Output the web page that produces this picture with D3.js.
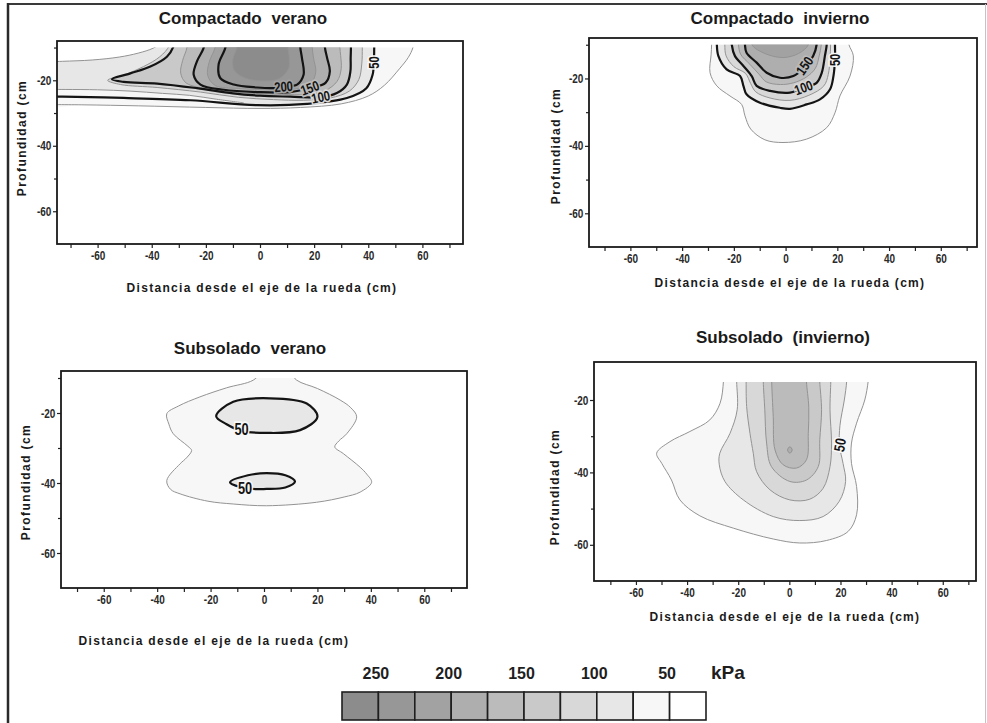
<!DOCTYPE html>
<html>
<head>
<meta charset="utf-8">
<script src="https://cdn.jsdelivr.net/npm/d3@7"></script>
<style>
  body { margin: 0; background: #fff; }
  svg { display: block; font-family: "Liberation Sans", Arial, sans-serif; }
</style>
</head>
<body>
<svg id="fig" width="987" height="723"></svg>
<script>
// contour levels (kPa) and the grey for each 25 kPa band, from 0-25 up to 225-250
var kPaShades = ["#ffffff", "#f7f7f7", "#e7e7e7", "#d8d8d8", "#c9c9c9", "#bbbbbb", "#aeaeae", "#a2a2a2", "#979797", "#8c8c8c"];
var legendLabels = [250, 200, 150, 100, 50];
var distTicks = [-60, -40, -20, 0, 20, 40, 60];
var distMinor = [-70, -50, -30, -10, 10, 30, 50, 70];
var depthTicks = [-20, -40, -60];
var depthMinor = [-10, -30, -50];

// isolines: [distance cm, depth cm]

// Compactado verano
var cvIso25 = [[57,-7],[56.5,-10],[54.8,-13],[51.5,-16.5],[46,-21.5],[40,-24.8],[30,-27.2],[15,-28.3],[0,-28.6],[-20,-28.3],[-45,-27.8],[-65,-27.5],[-80,-27.4]];
var cvIsoA = [[-80,-14.4],[-73,-14.2],[-62,-13.8],[-52,-12.9],[-45,-11.7],[-39.5,-10.2],[-36.5,-8.5],[-35.5,-7]];
var cvIsoBand = [[-80,-22.8],[-72,-22.8],[-60,-22.9],[-48,-23.3],[-36,-24],[-26,-24.6],[-16,-25.8],[-6,-26.9]];
var cvIso50 = [[42.3,-7],[42.2,-10],[42.1,-14],[41.6,-18.3],[39.3,-22.4],[32.1,-25.4],[17.4,-27.2],[-1.1,-27.6],[-25.7,-26.1],[-50.4,-25.4],[-73,-25],[-80,-25]];
var cvIso75 = [[-33.5,-7],[-33.6,-9.5],[-37,-12.8],[-43,-15.8],[-50,-18.3],[-56.3,-20],[-51.5,-21.3],[-38,-22.2],[-22,-23.6],[-8,-25.2],[5,-25.9],[16,-26.1],[26,-25.4],[33,-23.3],[36.5,-19.8],[37.6,-15],[37.8,-10],[37.8,-7]];
var cvIso100 = [[-31.5,-7],[-31.9,-9.5],[-34.4,-12.8],[-40.5,-15.8],[-47.9,-17.9],[-54.7,-19.7],[-50.4,-20.5],[-38,-21],[-23.3,-22.4],[-10,-24],[0,-24.7],[11.2,-25],[22.3,-25.2],[28.4,-23.9],[32.1,-21.3],[33.4,-17.3],[33.5,-13.2],[33.6,-10],[33.6,-7]];
var cvIso125 = [[-27,-7],[-27,-10],[-28.6,-14],[-29.3,-17.8],[-27.3,-20.8],[-18,-22.8],[-5,-23.9],[8,-24.3],[17,-24.3],[24,-23.2],[28.5,-20.3],[30,-16.5],[29.8,-12.5],[29.5,-10],[29.5,-7]];
var cvIso150 = [[-20.8,-7],[-20.8,-10],[-23.3,-14.2],[-24.5,-18.3],[-22,-21.3],[-13.4,-22.9],[-1.1,-23.6],[11.2,-23.6],[18.6,-22.3],[24.2,-20.8],[25.8,-17.3],[24.8,-13.2],[24,-10],[24,-7]];
var cvIso175 = [[-16.5,-7],[-16.6,-10],[-18.8,-14.5],[-19.3,-18.6],[-16.5,-21.6],[-8,-22.5],[4,-22.9],[12.5,-22.7],[18.5,-21.3],[20.6,-17.5],[19.8,-13.3],[19.3,-10],[19.3,-7]];
var cvIso200 = [[-12.8,-7],[-12.8,-10],[-15.3,-15.2],[-14.7,-19.3],[-9.7,-21.3],[-1.1,-22.2],[5,-22.4],[8.7,-22],[13.7,-21.3],[16.1,-18.3],[15.5,-13.2],[14.9,-10],[14.9,-7]];
var cvIso225 = [[-8.5,-7],[-8.5,-10],[-10,-13.5],[-9.5,-17],[-5.5,-19.3],[1,-20.2],[7,-19.5],[10.5,-16.5],[10.8,-13],[10.3,-10],[10.3,-7]];
var cvLabels = [[50, 42.2, -14.6, -90], [200, 8.7, -21.9, -5], [150, 18.4, -22.3, -20], [100, 22.4, -25.1, -12]];

// Compactado invierno
var ciIso25 = [[-28.6,-7],[-28.6,-10],[-28.8,-13],[-29.2,-18.3],[-26.6,-22.2],[-21.5,-25.2],[-17,-27.7],[-15.7,-31.1],[-13.5,-35],[-8,-38.2],[-1,-39],[8.1,-38],[15.9,-34.6],[19.1,-30.2],[21,-25.2],[24.9,-19.3],[26.2,-13.3],[24.5,-10],[24,-7]];
var ciIso50 = [[-26.6,-7],[-26.6,-9.5],[-26,-13.3],[-22.8,-17.3],[-17.6,-19.3],[-16.3,-22.2],[-15.1,-24.7],[-9.9,-27.2],[-2.2,-28.7],[1.7,-29],[8.1,-27.7],[13.3,-26.2],[17.2,-23.2],[18.5,-19.3],[19.1,-14.3],[19.1,-10],[19.1,-7]];
var ciIso75 = [[-23.5,-7],[-23.5,-10],[-23,-13.3],[-20,-16.5],[-15.5,-18.5],[-13.5,-21.5],[-11.5,-24],[-6,-25.8],[1.7,-26.5],[9,-25],[14.8,-22.2],[16.5,-18.8],[17.2,-14],[17.4,-10],[17.4,-7]];
var ciIso100 = [[-20.8,-7],[-20.8,-10],[-19.6,-13.3],[-16.3,-16.3],[-13.1,-19.3],[-11.2,-22.2],[-6,-23.7],[1.7,-24.2],[6.9,-22.8],[12,-21.3],[14,-18.3],[15.2,-13.3],[15.9,-10],[15.9,-7]];
var ciIso125 = [[-18.2,-7],[-18.2,-10],[-17.4,-12.8],[-13.8,-15.8],[-10.2,-18.8],[-7.5,-21],[-2,-21.8],[3,-21.3],[8,-19.6],[11.5,-17],[13,-13.3],[13.8,-10],[13.8,-7]];
var ciIso150 = [[-15.7,-7],[-15.7,-10],[-15.1,-12.4],[-11.2,-15.3],[-7.3,-18.3],[-2.2,-19.8],[3,-19.3],[7.5,-16.5],[10.7,-13.3],[12,-10],[12,-7]];
var ciIso175 = [[-13,-7],[-13,-10],[-8,-12.6],[-1,-13.8],[5,-12.6],[8.8,-10],[8.8,-7]];
var ciLabels = [[150, 7.3, -16.2, -55], [100, 6.9, -22.7, -20], [50, 19.1, -14.5, -90]];

// Subsolado verano
var svIso25 = [[0,-7.5],[-4,-10.6],[-14,-12.8],[-24,-15.4],[-32,-18],[-36.4,-20.2],[-35.6,-23.2],[-34,-25.9],[-28.5,-29.5],[-27.1,-30.7],[-29,-32.8],[-31.4,-34.5],[-36.4,-39.3],[-35,-41.8],[-31.4,-43.1],[-21,-45.2],[-11.5,-46],[1,-46.5],[19.7,-45.5],[30,-44],[36,-42.6],[40.3,-39.8],[38.5,-37.5],[36,-35.5],[29.7,-31.6],[26.5,-29.7],[28,-28],[31,-25.9],[34.7,-21.1],[32.5,-18.5],[28.5,-16.3],[20,-13],[12.2,-10.6],[9,-7.5]];
var svIso50a = [[-17.9,-20.9],[-11.5,-16.8],[2.2,-15.8],[16,-17.3],[20,-21.1],[13.5,-24.9],[1,-25.7],[-8.4,-25.1],[-14,-23.2]];
var svIso50b = [[-12.7,-39.8],[-6,-37.8],[1,-37.2],[8,-37.8],[11.6,-39.6],[8,-41.3],[1,-41.7],[-7,-41.5]];
var svLabels = [[50, -8.4, -24.5, 0], [50, -7.1, -41.4, 0]];

// Subsolado (invierno)
var siIso25 = [[-25.8,-13],[-25.8,-15],[-27.1,-20.9],[-31.1,-25.5],[-38.9,-28.7],[-46.7,-31.5],[-51.9,-34.7],[-49.9,-37.5],[-46.1,-42.1],[-42.8,-47.6],[-35,-52],[-21.9,-55.4],[-6.3,-58.4],[4.1,-59.5],[14.6,-58.8],[23,-56.3],[26.3,-51.7],[26.3,-43.9],[24.3,-37.5],[24.3,-31.9],[26.3,-26.4],[29.5,-20],[30.8,-15],[31,-13]];
var siIso50 = [[-20.6,-13],[-20.6,-15],[-20.4,-22.7],[-23.2,-29.2],[-27.2,-34.7],[-27.4,-37.9],[-25.2,-42.5],[-18,-47.6],[-6.3,-52.2],[4.1,-53.3],[13.2,-52.2],[19.5,-48],[22,-42.5],[21,-37.5],[19.6,-32.5],[19.8,-27],[21.5,-20],[22.4,-15],[22.4,-13]];
var siIso75 = [[-16.9,-13],[-16.9,-15],[-16.7,-21.8],[-15.4,-29.2],[-14.1,-34.7],[-12.8,-39.8],[-7.6,-44.8],[0.2,-47.6],[8,-47.4],[13.2,-44.4],[15.9,-38.4],[16.5,-31.9],[15.9,-22.7],[16.2,-15],[16.2,-13]];
var siIso100 = [[-10.2,-13],[-10.2,-15],[-9.6,-22.7],[-8.9,-31.9],[-7,-38.4],[0.2,-42.5],[6.7,-42.1],[11.3,-38.4],[11.9,-31],[12.6,-22.7],[11.9,-15],[11.9,-13]];
var siIso125 = [[-6.9,-13],[-6.9,-15],[-6.3,-24.6],[-5.6,-33.8],[-2.4,-37.9],[2.8,-38.8],[6.7,-36.5],[7.4,-29.2],[7.6,-22],[6.7,-15],[6.7,-13]];
var siIso150 = [[0.2,-32.9],[1.1,-33.8],[0.2,-34.7],[-0.7,-33.8]];
var siLabels = [[50, 19.7, -32.4, -80]];

var panels = [
  { title: "Compactado verano", box: [57, 463, 41, 244], xDom: [-75, 75], yDom: [-8, -70], top: -10, thick: true,
    titleAt: [243, 24], xLabAt: [262, 292], yLabAt: [26, 138], labels: cvLabels, labelSize: 14,
    fills: [
      { kPa: 25, pts: cvIso25.concat(cvIsoA) },
      { kPa: 50, pts: cvIso50.concat(cvIsoA) },
      { kPa: 25, pts: cvIsoBand.concat(cvIso50.filter(function(p){ return p[0] < -10; })) },
      { kPa: 75, pts: cvIso75 }, { kPa: 100, pts: cvIso100 }, { kPa: 125, pts: cvIso125 },
      { kPa: 150, pts: cvIso150 }, { kPa: 175, pts: cvIso175 }, { kPa: 200, pts: cvIso200 }, { kPa: 225, pts: cvIso225 }
    ],
    lines: [
      { kPa: 25, pts: cvIso25 }, { kPa: 25, pts: cvIsoA }, { kPa: 25, pts: cvIsoBand }, { kPa: 50, pts: cvIso50 },
      { kPa: 75, pts: cvIso75 }, { kPa: 100, pts: cvIso100 }, { kPa: 125, pts: cvIso125 }, { kPa: 150, pts: cvIso150 },
      { kPa: 175, pts: cvIso175 }, { kPa: 200, pts: cvIso200 }, { kPa: 225, pts: cvIso225 }
    ] },
  { title: "Compactado invierno", box: [589, 977, 38, 247], xDom: [-76, 74], yDom: [-8, -70], top: -10, thick: true,
    titleAt: [780, 24], xLabAt: [790, 287], yLabAt: [560, 146], labels: ciLabels, labelSize: 14,
    fills: [
      { kPa: 25, pts: ciIso25 }, { kPa: 50, pts: ciIso50 }, { kPa: 75, pts: ciIso75 }, { kPa: 100, pts: ciIso100 },
      { kPa: 125, pts: ciIso125 }, { kPa: 150, pts: ciIso150 }, { kPa: 175, pts: ciIso175 }
    ],
    lines: [
      { kPa: 25, pts: ciIso25 }, { kPa: 50, pts: ciIso50 }, { kPa: 75, pts: ciIso75 }, { kPa: 100, pts: ciIso100 },
      { kPa: 125, pts: ciIso125 }, { kPa: 150, pts: ciIso150 }, { kPa: 175, pts: ciIso175 }
    ] },
  { title: "Subsolado verano", box: [61, 467, 371, 588], xDom: [-76, 76], yDom: [-8, -70], top: -10, thick: true,
    titleAt: [250, 354], xLabAt: [214, 645], yLabAt: [30, 482], labels: svLabels, labelSize: 16,
    fills: [
      { kPa: 25, pts: svIso25 }, { kPa: 50, pts: svIso50a, closed: true }, { kPa: 50, pts: svIso50b, closed: true }
    ],
    lines: [
      { kPa: 25, pts: svIso25 }, { kPa: 50, pts: svIso50a, closed: true }, { kPa: 50, pts: svIso50b, closed: true }
    ] },
  { title: "Subsolado (invierno)", box: [594, 976, 362, 581], xDom: [-76.4, 73], yDom: [-9.5, -70], top: -15, thick: false,
    titleAt: [783, 343], xLabAt: [785, 621], yLabAt: [559, 487], labels: siLabels, labelSize: 15,
    fills: [
      { kPa: 25, pts: siIso25 }, { kPa: 50, pts: siIso50 }, { kPa: 75, pts: siIso75 }, { kPa: 100, pts: siIso100 },
      { kPa: 125, pts: siIso125 }, { kPa: 150, pts: siIso150, closed: true }
    ],
    lines: [
      { kPa: 25, pts: siIso25 }, { kPa: 50, pts: siIso50 }, { kPa: 75, pts: siIso75 }, { kPa: 100, pts: siIso100 },
      { kPa: 125, pts: siIso125 }, { kPa: 150, pts: siIso150, closed: true }
    ] }
];

var svg = d3.select("#fig");
var shade = function(k){ return kPaShades[Math.round(k / 25)]; };

// outer frame of the scanned figure
svg.append("line").attr("x1", 8).attr("y1", 4).attr("x2", 987).attr("y2", 4).attr("stroke", "#3a3a3a").attr("stroke-width", 2);
svg.append("line").attr("x1", 8).attr("y1", 3).attr("x2", 8).attr("y2", 723).attr("stroke", "#2a2a2a").attr("stroke-width", 2.5);
svg.append("line").attr("x1", 985.5).attr("y1", 4).attr("x2", 985.5).attr("y2", 723).attr("stroke", "#c4c4c4").attr("stroke-width", 1);

panels.forEach(function(p, i){
  var l = p.box[0], r = p.box[1], t = p.box[2], b = p.box[3];
  var x = d3.scaleLinear().domain(p.xDom).range([l, r]);
  var y = d3.scaleLinear().domain(p.yDom).range([t, b]);
  var g = svg.append("g");

  g.append("clipPath").attr("id", "clip" + i).append("rect")
    .attr("x", l).attr("y", y(p.top)).attr("width", r - l).attr("height", y(-70) - y(p.top));

  var open = d3.line().x(function(d){ return x(d[0]); }).y(function(d){ return y(d[1]); }).curve(d3.curveCatmullRom.alpha(0.5));
  var loop = d3.line().x(function(d){ return x(d[0]); }).y(function(d){ return y(d[1]); }).curve(d3.curveCatmullRomClosed.alpha(0.5));
  var isMajor = function(c){ return p.thick && c.kPa % 50 === 0; };

  var area = g.append("g").attr("clip-path", "url(#clip" + i + ")");
  area.append("g").selectAll("path").data(p.fills).join("path")
    .attr("d", function(c){ return c.closed ? loop(c.pts) : open(c.pts) + "Z"; })
    .attr("fill", function(c){ return shade(c.kPa); });

  var lines = p.lines.slice().sort(function(a, c){ return isMajor(a) - isMajor(c); });
  area.append("g").selectAll("path").data(lines).join("path")
    .attr("d", function(c){ return c.closed ? loop(c.pts) : open(c.pts); })
    .attr("fill", "none")
    .attr("stroke", function(c){ return isMajor(c) ? "#141414" : "#939393"; })
    .attr("stroke-width", function(c){ return isMajor(c) ? 2.2 : 1; })
    .attr("stroke-linejoin", "round");

  // contour labels sitting in a break of their line
  g.append("g").selectAll("text").data(p.labels).join("text")
    .attr("transform", function(d){ return "translate(" + x(d[1]) + "," + y(d[2]) + ") rotate(" + d[3] + ") scale(0.8,1)"; })
    .attr("text-anchor", "middle").attr("dy", "0.36em")
    .attr("font-size", p.labelSize).attr("font-weight", "bold")
    .attr("fill", "#141414")
    .attr("stroke", function(d){ return shade(d[0] - 25); }).attr("stroke-width", 3.5)
    .attr("paint-order", "stroke")
    .text(function(d){ return d[0]; });

  // axes
  var xAxis = g.append("g").attr("transform", "translate(0," + b + ")")
    .call(d3.axisBottom(x).tickValues(distTicks).tickSize(4).tickPadding(3).tickFormat(function(d){ return String(d); }));
  g.append("g").attr("transform", "translate(0," + b + ")")
    .call(d3.axisBottom(x).tickValues(distMinor.filter(function(v){ return x(v) > l + 3 && x(v) < r - 3; })).tickSize(4).tickFormat(""))
    .select(".domain").remove();
  var yAxis = g.append("g").attr("transform", "translate(" + l + ",0)")
    .call(d3.axisLeft(y).tickValues(depthTicks).tickSize(4).tickPadding(3).tickFormat(function(d){ return String(d); }));
  g.append("g").attr("transform", "translate(" + l + ",0)")
    .call(d3.axisLeft(y).tickValues(depthMinor.filter(function(v){ return y(v) > t + 4; })).tickSize(3).tickFormat(""))
    .select(".domain").remove();
  [xAxis, yAxis].forEach(function(a){
    a.select(".domain").remove();
    a.selectAll("text").attr("transform", "scale(0.8,1)")
      .attr("font-family", "'Liberation Sans', Arial, sans-serif").attr("font-size", 12.5).attr("font-weight", "bold").attr("fill", "#2a2a2a");
  });
  g.selectAll(".tick line").attr("stroke", "#222").attr("stroke-width", 1.2);

  g.append("rect").attr("x", l).attr("y", t).attr("width", r - l).attr("height", b - t)
    .attr("fill", "none").attr("stroke", "#1a1a1a").attr("stroke-width", 1.8);

  // texts
  g.append("text").attr("x", p.titleAt[0]).attr("y", p.titleAt[1]).attr("text-anchor", "middle")
    .attr("font-size", 17).attr("font-weight", "bold").attr("word-spacing", 5).attr("fill", "#1a1a1a").text(p.title);
  g.append("text").attr("x", p.xLabAt[0]).attr("y", p.xLabAt[1]).attr("text-anchor", "middle")
    .attr("font-size", 12).attr("font-weight", "bold").attr("letter-spacing", 1.3).attr("fill", "#1a1a1a")
    .text("Distancia desde el eje de la rueda (cm)");
  g.append("text").attr("transform", "translate(" + p.yLabAt[0] + "," + p.yLabAt[1] + ") rotate(-90)")
    .attr("text-anchor", "middle")
    .attr("font-size", 12).attr("font-weight", "bold").attr("letter-spacing", 1.4).attr("fill", "#1a1a1a")
    .text("Profundidad (cm");
});

// legend
var legendShades = kPaShades.slice().reverse();
var lx = d3.scaleBand().domain(d3.range(legendShades.length)).range([342, 706]);
var lg = svg.append("g");
lg.selectAll("rect").data(legendShades).join("rect")
  .attr("x", function(d, i){ return lx(i); }).attr("y", 692)
  .attr("width", lx.bandwidth()).attr("height", 28)
  .attr("fill", function(d){ return d; })
  .attr("stroke", "#1e1e1e").attr("stroke-width", 1.6);
lg.selectAll("text.num").data(legendLabels).join("text").attr("class", "num")
  .attr("x", function(d, i){ return lx(2 * i + 1) - 2.5; }).attr("y", 679)
  .attr("text-anchor", "middle").attr("font-size", 16).attr("font-weight", "bold").attr("fill", "#1e1e1e")
  .text(function(d){ return d; });
lg.append("text").attr("x", 711).attr("y", 679).attr("font-size", 19).attr("font-weight", "bold")
  .attr("fill", "#1e1e1e").text("kPa");
</script>
</body>
</html>
